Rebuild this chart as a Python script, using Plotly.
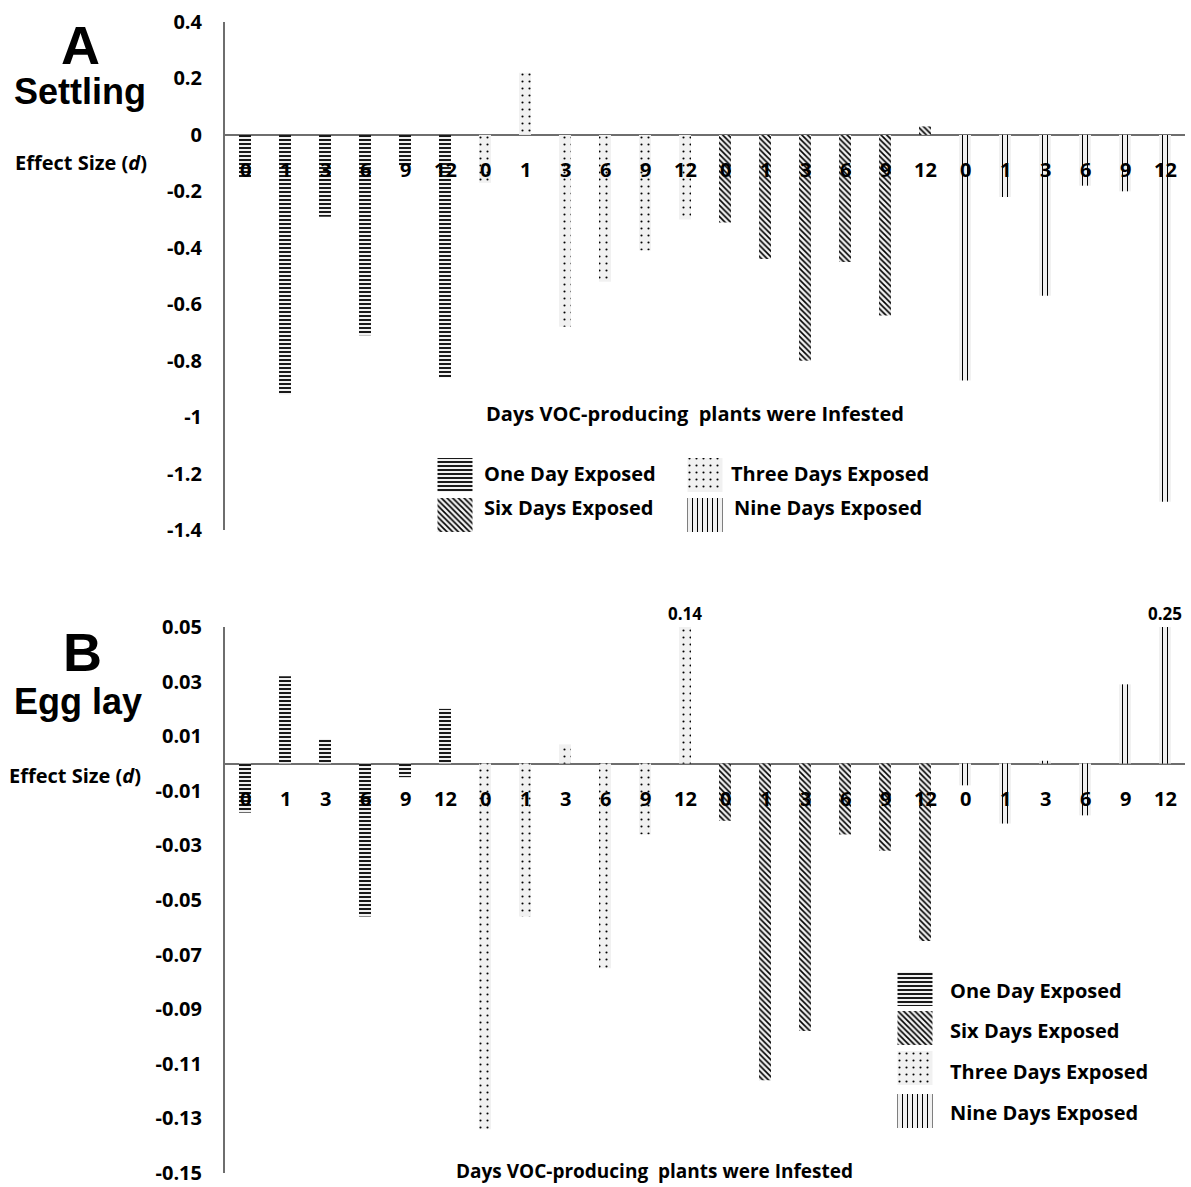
import plotly.graph_objects as go

# ---- data -------------------------------------------------------------
days = ["0", "1", "3", "6", "9", "12"]
groups = ["One Day Exposed", "Three Days Exposed", "Six Days Exposed", "Nine Days Exposed"]

# Panel A: settling effect size (d)
settling_one = [-0.15, -0.92, -0.29, -0.71, -0.11, -0.86]
settling_three = [-0.17, 0.22, -0.68, -0.52, -0.41, -0.30]
settling_six = [-0.31, -0.44, -0.80, -0.45, -0.64, 0.03]
settling_nine = [-0.87, -0.22, -0.57, -0.18, -0.20, -1.30]

# Panel B: egg laying effect size (d)
egg_one = [-0.018, 0.032, 0.009, -0.056, -0.005, 0.020]
egg_three = [-0.134, -0.056, 0.007, -0.075, -0.026, 0.14]
egg_six = [-0.021, -0.116, -0.098, -0.026, -0.032, -0.065]
egg_nine = [-0.008, -0.022, 0.001, -0.019, 0.029, 0.25]

a_ticks = [0.4, 0.2, 0, -0.2, -0.4, -0.6, -0.8, -1, -1.2, -1.4]
a_ticktext = ["0.4", "0.2", "0", "-0.2", "-0.4", "-0.6", "-0.8", "-1", "-1.2", "-1.4"]
b_ticks = [0.05, 0.03, 0.01, -0.01, -0.03, -0.05, -0.07, -0.09, -0.11, -0.13, -0.15]
b_ticktext = ["0.05", "0.03", "0.01", "-0.01", "-0.03", "-0.05", "-0.07",
              "-0.09", "-0.11", "-0.13", "-0.15"]

a_range = [-1.4, 0.4]
b_range = [-0.15, 0.05]

# ---- styling ----------------------------------------------------------
W, H = 1191, 1187
BODY = "Open Sans"
AXIS = "#6e6e6e"
BG = "#f1f1f1"

patterns = {
    "One Day Exposed": dict(shape="-", size=4, solidity=0.45),
    "Three Days Exposed": dict(shape=".", size=7, solidity=0.07),
    "Six Days Exposed": dict(shape="\\", size=4, solidity=0.4),
    "Nine Days Exposed": dict(shape="|", size=5, solidity=0.2),
}


def marker_for(name):
    p = patterns[name]
    return dict(color=BG, line=dict(width=0),
                pattern=dict(shape=p["shape"], size=p["size"], solidity=p["solidity"],
                             fgcolor="black", bgcolor=BG, fillmode="replace"))


fig = go.Figure()

panels = [
    ("x", "y", [settling_one, settling_three, settling_six, settling_nine], a_range),
    ("x2", "y2", [egg_one, egg_three, egg_six, egg_nine], b_range),
]

annotations = []
for xa, ya, series, yr in panels:
    for g, (name, vals) in enumerate(zip(groups, series)):
        xs = [g * len(days) + j for j in range(len(days))]
        fig.add_trace(go.Bar(x=xs, y=vals, name=name, width=0.3, xaxis=xa, yaxis=ya,
                             marker=marker_for(name), showlegend=False))
        # bars running past the top of the axis get their value written above
        for x, v in zip(xs, vals):
            if v > yr[1]:
                annotations.append(dict(x=x, y=yr[1], xref=xa, yref=ya, text=f"{v:.2f}",
                                        showarrow=False, yanchor="bottom", yshift=0,
                                        font=dict(family=BODY, size=17, color="black", weight="bold")))
    # category labels sit just under the zero line
    for g in range(len(groups)):
        for j, d in enumerate(days):
            annotations.append(dict(x=g * len(days) + j, y=0, xref=xa, yref=ya, text=d,
                                    showarrow=False, yanchor="middle", yshift=-35,
                                    font=dict(family=BODY, size=20, color="black", weight="bold")))

# ---- legend swatches (drawn on a pixel-space overlay axis) ------------
# (name, swatch centre x, swatch centre y, text left x, text centre y)
leg_a = [("One Day Exposed", 455, 475, 482, 473), ("Six Days Exposed", 455, 515, 482, 507),
         ("Three Days Exposed", 705, 475, 729, 473), ("Nine Days Exposed", 705, 515, 732, 507)]
leg_b = [("One Day Exposed", 915, 989, 948, 990), ("Six Days Exposed", 915, 1028, 948, 1030),
         ("Three Days Exposed", 915, 1068, 948, 1071), ("Nine Days Exposed", 915, 1111, 948, 1112)]
for name, cx, cy, tx, ty in leg_a + leg_b:
    fig.add_trace(go.Bar(x=[cx], base=[cy - 17], y=[34], width=[35], xaxis="x3", yaxis="y3",
                         marker=marker_for(name), showlegend=False, hoverinfo="skip"))
    annotations.append(dict(x=tx, y=ty, xref="x3", yref="y3", text=name, showarrow=False,
                            xanchor="left", yanchor="middle",
                            font=dict(family=BODY, size=20, color="black", weight="bold")))


# ---- panel titles and axis captions ------------------------------------
def paper_text(x, y, text, size, family=BODY, weight="bold"):
    annotations.append(dict(x=x / W, y=1 - y / H, xref="paper", yref="paper", text=text,
                            showarrow=False, xanchor="center", yanchor="middle",
                            font=dict(family=family, size=size, color="black", weight=weight)))


paper_text(80, 45, "A", 54, family="Liberation Sans")
paper_text(80, 91, "Settling", 36, family="Liberation Sans")
paper_text(81, 163, "Effect Size (<i>d</i>)", 20)
paper_text(695, 413, "Days VOC-producing\u00a0 plants were Infested", 20)

paper_text(82, 652, "B", 54, family="Liberation Sans")
paper_text(78, 701, "Egg lay", 36, family="Liberation Sans")
paper_text(75, 775, "Effect Size (<i>d</i>)", 20)
paper_text(654, 1171, "Days VOC-producing\u00a0 plants were Infested", 19)

x_dom = [225 / W, 1185 / W]
n = len(groups) * len(days)
xcommon = dict(domain=x_dom, range=[-0.5, n - 0.5], visible=False, fixedrange=True)
ycommon = dict(showgrid=False, showline=True, linecolor=AXIS, linewidth=2, ticks="",
               zeroline=True, zerolinecolor=AXIS, zerolinewidth=2, ticklabelstandoff=17,
               automargin=False,
               tickfont=dict(family=BODY, size=20, color="black", weight="bold"))

fig.update_layout(
    width=W, height=H, margin=dict(l=0, r=0, t=0, b=0, autoexpand=False),
    paper_bgcolor="white", plot_bgcolor="rgba(0,0,0,0)",
    barmode="overlay", showlegend=False,
    xaxis=dict(anchor="y", **xcommon),
    yaxis=dict(anchor="x", domain=[1 - 530 / H, 1 - 22 / H], range=a_range,
               tickvals=a_ticks, ticktext=a_ticktext, **ycommon),
    xaxis2=dict(anchor="y2", **xcommon),
    yaxis2=dict(anchor="x2", domain=[1 - 1173 / H, 1 - 627 / H], range=b_range,
                tickvals=b_ticks, ticktext=b_ticktext, **ycommon),
    xaxis3=dict(anchor="y3", domain=[0, 1], range=[0, W], visible=False, fixedrange=True),
    yaxis3=dict(anchor="x3", domain=[0, 1], range=[H, 0], visible=False, fixedrange=True),
    annotations=annotations,
)

fig.write_html("out.html")
